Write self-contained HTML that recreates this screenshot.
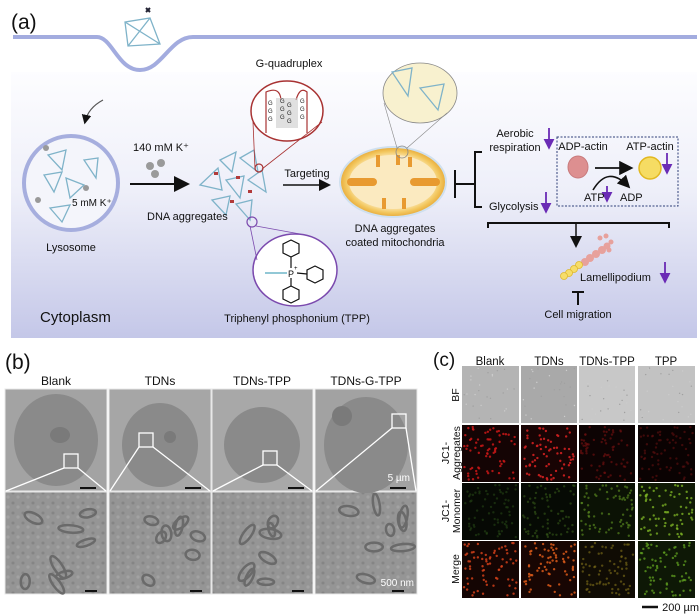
<!DOCTYPE html>
<html><head><meta charset="utf-8"><style>
html,body{margin:0;padding:0;background:#fff;}
svg{display:block;font-family:"Liberation Sans",Arial,sans-serif;}
</style></head><body>
<svg id="s" width="700" height="616" viewBox="0 0 700 616" xmlns="http://www.w3.org/2000/svg">
<defs>
<linearGradient id="bg" x1="0" y1="0" x2="0" y2="1">
<stop offset="0" stop-color="#fdfdff"/><stop offset="0.45" stop-color="#eeeff9"/><stop offset="1" stop-color="#c4c7e8"/>
</linearGradient>
<radialGradient id="mito" cx="0.5" cy="0.5" r="0.5">
<stop offset="0.75" stop-color="#fbe6b0"/><stop offset="0.9" stop-color="#f3c860"/><stop offset="1" stop-color="#eab040"/>
</radialGradient>
<marker id="ah" markerWidth="8" markerHeight="8" refX="6" refY="4" orient="auto"><path d="M0,0 L8,4 L0,8 z" fill="#111"/></marker>
<marker id="pa" markerWidth="6" markerHeight="6" refX="5" refY="3" orient="auto"><path d="M0,0 L6,3 L0,6 z" fill="#6a2bb5"/></marker>
<pattern id="em" width="10" height="10" patternUnits="userSpaceOnUse">
<rect width="10" height="10" fill="#959595"/><circle cx="3" cy="3" r="1.5" fill="#858585"/><circle cx="8" cy="7" r="1.6" fill="#a2a2a2"/>
</pattern>
</defs>

<rect x="11" y="72" width="686" height="266" fill="url(#bg)"/>
<text x="11" y="29" font-size="21" fill="#111">(a)</text>
<path d="M13,37 L97,37 C112,37 118,70 140,70 C162,70 170,37 193,37 L697,37" fill="none" stroke="#a3acdf" stroke-width="4"/>
<g stroke="#7fb3c9" stroke-width="1.3" fill="none"><path d="M125,22 L150,18 L160,44 L128,46 Z M125,22 L160,44 M150,18 L128,46"/></g>
<path d="M146,8 l4,4 M150,8 l-4,4" stroke="#223" stroke-width="2"/>

<path d="M103,100 Q88,108 85,122" fill="none" stroke="#555" stroke-width="1.2" marker-end="url(#ah)"/>

<circle cx="71" cy="183" r="47" fill="#f4f5fb" stroke="#a6aede" stroke-width="4"/>
<g stroke="#7fb3c9" stroke-width="1.3" fill="none">
<path d="M48,155 L66,150 L62,170 Z M44,175 L62,172 L54,192 Z M66,178 L84,185 L70,198 Z M84,160 L98,158 L96,178 Z M50,208 L70,205 L62,222 Z"/>
</g>
<circle cx="46" cy="148" r="3" fill="#999"/><circle cx="38" cy="200" r="3" fill="#999"/><circle cx="86" cy="188" r="3" fill="#999"/>
<text x="72" y="206" font-size="10" fill="#111">5 mM K⁺</text>
<text x="71" y="251" font-size="11" text-anchor="middle" fill="#111">Lysosome</text>
<text x="40" y="322" font-size="15" fill="#111">Cytoplasm</text>

<text x="133" y="151" font-size="11" fill="#111">140 mM K⁺</text>
<circle cx="150" cy="166" r="4" fill="#9a9a9a"/><circle cx="161" cy="163" r="4" fill="#9a9a9a"/><circle cx="155" cy="174" r="4" fill="#9a9a9a"/>
<line x1="130" y1="184" x2="186" y2="184" stroke="#111" stroke-width="2" marker-end="url(#ah)"/>

<g stroke="#7fb3c9" stroke-width="1.3" fill="none">
<path d="M200,185 L218,168 L222,190 Z M220,160 L236,152 L232,172 Z M240,158 L254,150 L258,172 Z M226,180 L244,176 L240,198 Z M248,180 L262,170 L266,192 Z M212,200 L230,196 L226,215 Z M236,204 L252,200 L250,220 Z"/>
</g>
<g fill="#b23a3a"><rect x="214" y="172" width="4" height="3"/><rect x="236" y="176" width="4" height="3"/><rect x="248" y="190" width="4" height="3"/><rect x="230" y="200" width="4" height="3"/></g>
<text x="147" y="220" font-size="11" fill="#111">DNA aggregates</text>

<text x="289" y="67" font-size="11" text-anchor="middle" fill="#111">G-quadruplex</text>
<ellipse cx="287" cy="111" rx="36" ry="30" fill="#fff" stroke="#a83232" stroke-width="1.5"/>
<line x1="253" y1="122" x2="255" y2="169" stroke="#a83232" stroke-width="0.8"/>
<line x1="322" y1="122" x2="262" y2="169" stroke="#a83232" stroke-width="0.8"/>
<circle cx="259" cy="168" r="4" fill="none" stroke="#a83232" stroke-width="1.2"/>
<path d="M266,133 L266,92 Q280,86 281,100 M296,100 Q300,86 307,92 L307,133" fill="none" stroke="#a83232" stroke-width="1.2"/>
<rect x="276" y="98" width="22" height="30" fill="#ccc" opacity="0.6"/>
<g font-size="6" fill="#222"><text x="268" y="105">G</text><text x="268" y="113">G</text><text x="268" y="121">G</text><text x="280" y="103">G</text><text x="280" y="111">G</text><text x="280" y="119">G</text><text x="287" y="107">G</text><text x="287" y="115">G</text><text x="287" y="123">G</text><text x="300" y="103">G</text><text x="300" y="111">G</text><text x="300" y="119">G</text></g>

<ellipse cx="295" cy="270" rx="42" ry="36" fill="#fff" stroke="#7b4aae" stroke-width="1.5"/>
<circle cx="252" cy="222" r="5" fill="none" stroke="#7b4aae" stroke-width="1.2"/>
<line x1="250" y1="226" x2="257" y2="260" stroke="#7b4aae" stroke-width="0.8"/>
<line x1="256" y1="226" x2="300" y2="234" stroke="#7b4aae" stroke-width="0.8"/>
<g fill="none" stroke="#111" stroke-width="1.2">
<polygon points="291,240 299,244 299,253 291,257 283,253 283,244"/>
<polygon points="315,266 323,270 323,279 315,283 307,279 307,270"/>
<polygon points="291,286 299,290 299,299 291,303 283,299 283,290"/>
<path d="M291,257 L291,268 M297,273 L307,274 M291,278 L291,286"/>
</g>
<line x1="265" y1="273" x2="287" y2="273" stroke="#6fb6c8" stroke-width="1.5"/>
<text x="288" y="277" font-size="9" fill="#111">P</text><text x="294" y="270" font-size="6">+</text>
<text x="297" y="322" font-size="11" text-anchor="middle" fill="#111">Triphenyl phosphonium (TPP)</text>

<text x="307" y="177" font-size="11" text-anchor="middle" fill="#111">Targeting</text>
<line x1="283" y1="185" x2="328" y2="185" stroke="#111" stroke-width="1.5" marker-end="url(#ah)"/>

<ellipse cx="393" cy="182" rx="54" ry="36" fill="#cfe0ef"/>
<ellipse cx="393" cy="182" rx="52" ry="34" fill="url(#mito)"/>
<ellipse cx="393" cy="182" rx="44" ry="27" fill="#fbeac0"/>
<g fill="#e89a30"><rect x="347" y="178" width="30" height="8" rx="4"/><rect x="410" y="178" width="30" height="8" rx="4"/>
<rect x="376" y="155" width="4" height="12"/><rect x="396" y="155" width="4" height="10"/><rect x="408" y="157" width="4" height="10"/><rect x="382" y="198" width="4" height="11"/><rect x="402" y="198" width="4" height="11"/></g>
<ellipse cx="420" cy="93" rx="37" ry="30" fill="#f8f1cf" stroke="#888" stroke-width="0.8"/>
<circle cx="402" cy="152" r="6" fill="none" stroke="#888" stroke-width="0.8"/>
<line x1="384" y1="103" x2="397" y2="148" stroke="#888" stroke-width="0.6"/><line x1="447" y1="113" x2="407" y2="148" stroke="#888" stroke-width="0.6"/>
<g stroke="#7fb3c9" stroke-width="1.3" fill="none"><path d="M392,72 L412,68 L408,96 Z M420,88 L444,84 L438,110 Z"/></g>
<text x="395" y="232" font-size="11" text-anchor="middle" fill="#111">DNA aggregates</text>
<text x="395" y="246" font-size="11" text-anchor="middle" fill="#111">coated mitochondria</text>

<g stroke="#111" stroke-width="2" fill="none">
<path d="M455,170 L455,198 M455,184 L475,184 M482,152 L475,152 L475,207 L482,207"/>
</g>
<text x="515" y="137" font-size="11" text-anchor="middle" fill="#111">Aerobic</text>
<text x="515" y="151" font-size="11" text-anchor="middle" fill="#111">respiration</text>
<text x="489" y="210" font-size="11" fill="#111">Glycolysis</text>
<g stroke="#6a2bb5" stroke-width="1.8"><line x1="549" y1="128" x2="549" y2="148" marker-end="url(#pa)"/><line x1="546" y1="192" x2="546" y2="212" marker-end="url(#pa)"/><line x1="667" y1="153" x2="667" y2="173" marker-end="url(#pa)"/><line x1="607" y1="186" x2="607" y2="201" marker-end="url(#pa)"/><line x1="665" y1="262" x2="665" y2="282" marker-end="url(#pa)"/></g>
<rect x="557" y="137" width="121" height="69" fill="none" stroke="#2f3f78" stroke-width="1" stroke-dasharray="2,1.5"/>
<text x="583" y="150" font-size="11" text-anchor="middle" fill="#111">ADP-actin</text>
<text x="650" y="150" font-size="11" text-anchor="middle" fill="#111">ATP-actin</text>
<ellipse cx="578" cy="167" rx="10" ry="11" fill="#dd8f90" stroke="#c87a7c"/>
<ellipse cx="650" cy="168" rx="11" ry="11" fill="#f6dc63" stroke="#e2b820" stroke-width="1.5"/>
<line x1="595" y1="168" x2="630" y2="168" stroke="#111" stroke-width="1.8" marker-end="url(#ah)"/>
<path d="M593,190 Q608,165 628,186" fill="none" stroke="#111" stroke-width="1.6" marker-end="url(#ah)"/>
<text x="584" y="201" font-size="11" fill="#111">ATP</text>
<text x="620" y="201" font-size="11" fill="#111">ADP</text>
<path d="M488,228 L488,223 L669,223 L669,228" fill="none" stroke="#111" stroke-width="2"/>
<line x1="576" y1="223" x2="576" y2="245" stroke="#111" stroke-width="1.5" marker-end="url(#ah)"/>
<g fill="#e7a19c"><circle cx="590" cy="258" r="4"/><circle cx="596" cy="254" r="4"/><circle cx="602" cy="250" r="4"/><circle cx="607" cy="246" r="3.5"/><circle cx="585" cy="262" r="4"/><circle cx="600" cy="238" r="2.5"/><circle cx="606" cy="236" r="2.5"/><circle cx="611" cy="242" r="2.5"/><circle cx="609" cy="250" r="2.5"/></g>
<g fill="#f6dd6a" stroke="#e0b92a" stroke-width="0.8"><circle cx="579" cy="265" r="3.5"/><circle cx="574" cy="269" r="3.5"/><circle cx="569" cy="273" r="3.5"/><circle cx="564" cy="276" r="3.5"/></g>
<text x="580" y="281" font-size="11" fill="#111">Lamellipodium</text>
<path d="M578,292 L578,305 M572,292 L584,292" stroke="#111" stroke-width="2"/>
<text x="578" y="318" font-size="11" text-anchor="middle" fill="#111">Cell migration</text>

<!-- panel b -->
<text x="5" y="369" font-size="21" fill="#111">(b)</text>
<g font-size="12" fill="#111" text-anchor="middle">
<text x="56" y="385">Blank</text><text x="160" y="385">TDNs</text><text x="262" y="385">TDNs-TPP</text><text x="366" y="385">TDNs-G-TPP</text></g>
<g stroke="#e8e8e8" stroke-width="1">
<rect x="5" y="389" width="102" height="102" fill="#a3a3a3"/>
<rect x="109" y="389" width="102" height="102" fill="#a6a6a6"/>
<rect x="212" y="389" width="101" height="102" fill="#a8a8a8"/>
<rect x="315" y="389" width="102" height="102" fill="#a2a2a2"/>
<rect x="5" y="492" width="102" height="102" fill="url(#em)"/>
<rect x="109" y="492" width="102" height="102" fill="url(#em)"/>
<rect x="212" y="492" width="101" height="102" fill="url(#em)"/>
<rect x="315" y="492" width="102" height="102" fill="url(#em)"/>
</g>
<g fill="#8a8a8a"><ellipse cx="56" cy="440" rx="42" ry="46"/><ellipse cx="160" cy="445" rx="38" ry="42"/><ellipse cx="262" cy="445" rx="38" ry="38"/><ellipse cx="366" cy="445" rx="42" ry="48"/></g>
<g fill="#7a7a7a"><ellipse cx="60" cy="435" rx="10" ry="8"/><circle cx="170" cy="437" r="6"/><circle cx="342" cy="416" r="10"/></g>
<g fill="none" stroke="#fff" stroke-width="1.3">
<rect x="64" y="454" width="14" height="14"/><path d="M64,468 L6,491 M78,468 L106,491"/>
<rect x="139" y="433" width="14" height="14"/><path d="M139,447 L110,491 M153,447 L210,491"/>
<rect x="263" y="451" width="14" height="14"/><path d="M263,465 L213,491 M277,465 L312,491"/>
<rect x="392" y="414" width="14" height="14"/><path d="M392,428 L316,491 M406,428 L416,491"/>
</g>
<text x="410" y="481" font-size="10" fill="#fff" text-anchor="end">5 µm</text>
<text x="414" y="586" font-size="10" fill="#fff" text-anchor="end">500 nm</text>
<g stroke="#111" stroke-width="2"><line x1="80" y1="488" x2="96" y2="488"/><line x1="185" y1="488" x2="201" y2="488"/><line x1="288" y1="488" x2="304" y2="488"/><line x1="390" y1="488" x2="406" y2="488"/>
<line x1="85" y1="591" x2="97" y2="591"/><line x1="190" y1="591" x2="202" y2="591"/><line x1="292" y1="591" x2="304" y2="591"/><line x1="392" y1="591" x2="404" y2="591"/></g>
<g id="mit" fill="none" stroke="#6a6a6a" stroke-width="2.5"></g>

<!-- panel c -->
<text x="433" y="366" font-size="19" fill="#111">(c)</text>
<g font-size="11.5" fill="#111" text-anchor="middle"><text x="490" y="365">Blank</text><text x="549" y="365">TDNs</text><text x="607" y="365">TDNs-TPP</text><text x="666" y="365">TPP</text></g>
<g font-size="10.5" fill="#111" text-anchor="middle">
<text transform="translate(459,395) rotate(-90)">BF</text>
<text transform="translate(449,453) rotate(-90)">JC1-</text>
<text transform="translate(460,453) rotate(-90)">Aggregates</text>
<text transform="translate(449,511) rotate(-90)">JC1-</text>
<text transform="translate(460,511) rotate(-90)">Monomer</text>
<text transform="translate(459,569) rotate(-90)">Merge</text>
</g>
<g>
<rect x="462" y="366" width="57" height="57" fill="#b4b4b4"/><rect x="521" y="366" width="56" height="57" fill="#a9a9a9"/><rect x="579" y="366" width="56" height="57" fill="#c8c8c8"/><rect x="638" y="366" width="57" height="57" fill="#c2c2c2"/>
<rect x="462" y="425" width="57" height="57" fill="#140404"/><rect x="521" y="425" width="56" height="57" fill="#180404"/><rect x="579" y="425" width="56" height="57" fill="#0d0303"/><rect x="638" y="425" width="57" height="57" fill="#0a0202"/>
<rect x="462" y="483" width="57" height="57" fill="#060904"/><rect x="521" y="483" width="56" height="57" fill="#060a04"/><rect x="579" y="483" width="56" height="57" fill="#0b1205"/><rect x="638" y="483" width="57" height="57" fill="#101a06"/>
<rect x="462" y="541" width="57" height="57" fill="#140503"/><rect x="521" y="541" width="56" height="57" fill="#180603"/><rect x="579" y="541" width="56" height="57" fill="#100c04"/><rect x="638" y="541" width="57" height="57" fill="#0e1806"/>
</g>
<g id="dots"></g>
<line x1="642" y1="607" x2="658" y2="607" stroke="#111" stroke-width="2.5"/>
<text x="699" y="611" font-size="11" fill="#111" text-anchor="end">200 µm</text>
</svg>
<script>
(function(){
var ns="http://www.w3.org/2000/svg",g=document.getElementById("dots");
var seed=7;function r(){seed=(seed*9301+49297)%233280;return seed/233280;}
var xs=[462,521,579,638],ws=[57,56,56,57],ys=[425,483,541];
var cols=[["#c81818","#d02020","#6a1010","#601010"],["#2a5018","#3a601c","#5a8a20","#7ab024"],["#d0401a","#da5a1a","#7a6a18","#60a020"]];
var op=[[0.85,0.9,0.7,0.6],[0.5,0.55,0.65,0.8],[0.85,0.85,0.65,0.75]];
for(var ri=0;ri<3;ri++)for(var ci=0;ci<4;ci++){for(var k=0;k<70;k++){var c=document.createElementNS(ns,"circle");c.setAttribute("cx",xs[ci]+2+r()*(ws[ci]-4));c.setAttribute("cy",ys[ri]+2+r()*53);c.setAttribute("r",1.2);c.setAttribute("fill",cols[ri][ci]);c.setAttribute("opacity",op[ri][ci]);g.appendChild(c);}}
for(var ci=0;ci<4;ci++)for(var k=0;k<25;k++){var c=document.createElementNS(ns,"circle");c.setAttribute("cx",xs[ci]+2+r()*(ws[ci]-4));c.setAttribute("cy",368+r()*53);c.setAttribute("r",0.7);c.setAttribute("fill",r()>0.5?"#ccc":"#a0a0a0");g.appendChild(c);}
var m=document.getElementById("mit"),bx=[5,109,212,315];
for(var i=0;i<4;i++)for(var k=0;k<8;k++){var e=document.createElementNS(ns,"ellipse");var cx=bx[i]+12+r()*78,cy=502+r()*82;e.setAttribute("cx",cx);e.setAttribute("cy",cy);e.setAttribute("rx",3+r()*2);e.setAttribute("ry",6+r()*7);e.setAttribute("transform","rotate("+(r()*180)+" "+cx+" "+cy+")");m.appendChild(e);}
})();
</script>
</body></html>
